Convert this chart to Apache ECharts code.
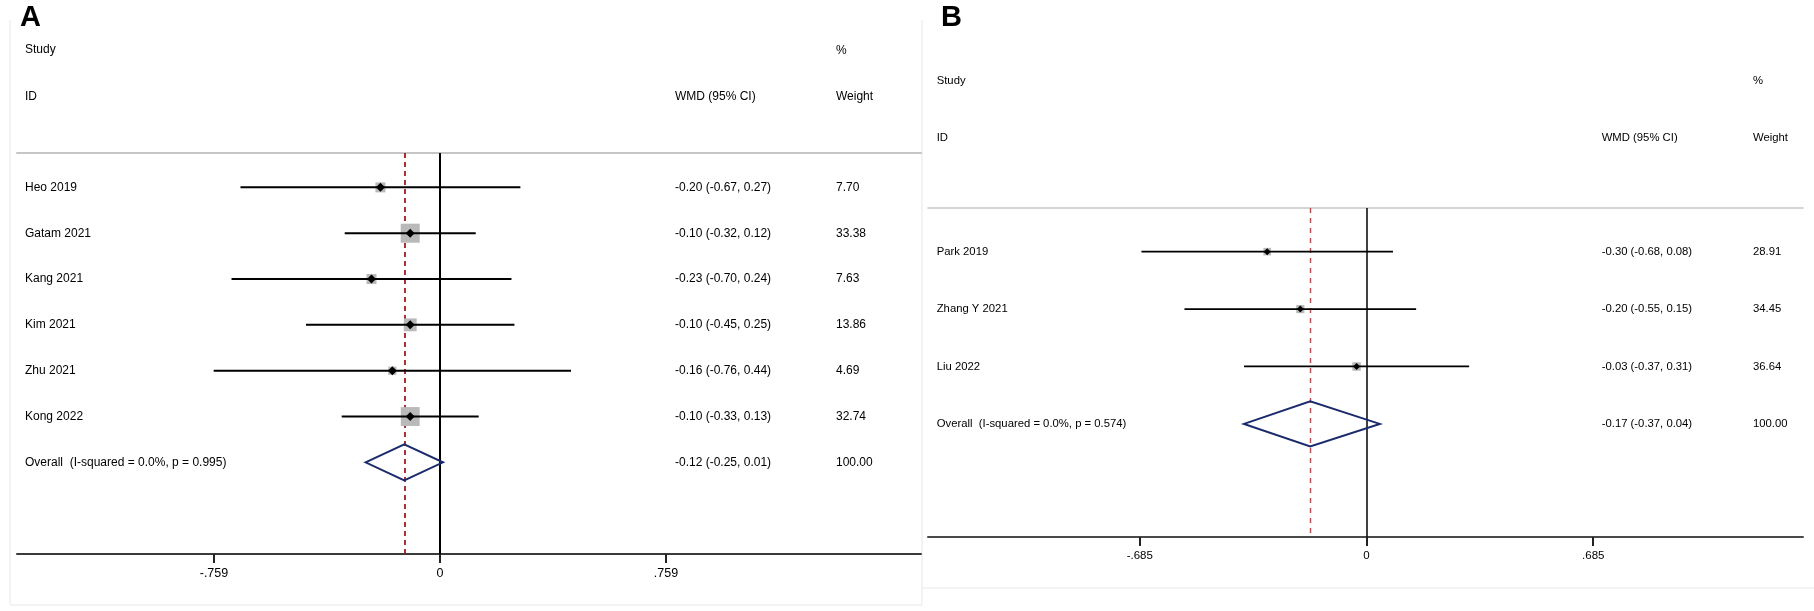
<!DOCTYPE html>
<html><head><meta charset="utf-8">
<script src="https://cdn.jsdelivr.net/npm/echarts@6/dist/echarts.min.js"></script>
<style>html,body{margin:0;padding:0;background:#fff}#c{width:1814px;height:611px}</style>
</head><body><div id="c"></div>
<script>
// ---------- Panel A data ----------
const studiesA = ['Heo 2019', 'Gatam 2021', 'Kang 2021', 'Kim 2021', 'Zhu 2021', 'Kong 2022'];
const wmdA    = [-0.20, -0.10, -0.23, -0.10, -0.16, -0.10];
const lowA    = [-0.67, -0.32, -0.70, -0.45, -0.76, -0.33];
const highA   = [ 0.27,  0.12,  0.24,  0.25,  0.44,  0.13];
const weightA = [7.70, 33.38, 7.63, 13.86, 4.69, 32.74];
const overallLabelA = 'Overall  (I-squared = 0.0%, p = 0.995)';
const overallA = [-0.12, -0.25, 0.01];
const ticksA = [-0.759, 0, 0.759];
const tickLabelsA = ['-.759', '0', '.759'];

// ---------- Panel B data ----------
const studiesB = ['Park 2019', 'Zhang Y 2021', 'Liu 2022'];
const wmdB    = [-0.30, -0.20, -0.03];
const lowB    = [-0.68, -0.55, -0.37];
const highB   = [ 0.08,  0.15,  0.31];
const weightB = [28.91, 34.45, 36.64];
const overallLabelB = 'Overall  (I-squared = 0.0%, p = 0.574)';
const overallB = [-0.17, -0.37, 0.04];
const ticksB = [-0.685, 0, 0.685];
const tickLabelsB = ['-.685', '0', '.685'];

const FONT = '"Liberation Sans", Arial, Helvetica, sans-serif';

function buildRows(studies, wmd, low, high, weight, overall) {
  const rows = studies.map((s, i) => [i, wmd[i], low[i], high[i], weight[i], 0]);
  rows.push([studies.length, overall[0], overall[1], overall[2], 100, 1]);
  return rows;
}
const rowsA = buildRows(studiesA, wmdA, lowA, highA, weightA, overallA);
const rowsB = buildRows(studiesB, wmdB, lowB, highB, weightB, overallB);
const namesA = studiesA.concat([overallLabelA]);
const namesB = studiesB.concat([overallLabelB]);

function f2(v) { return v.toFixed(2); }

function makeRender(cfg, names) {
  return function (params, api) {
    const cs = params.coordSys;
    const i = api.value(0), est = api.value(1), lo = api.value(2), hi = api.value(3), w = api.value(4), ov = api.value(5);
    const y = api.coord([0, i])[1];
    const xe = api.coord([est, i])[0], xl = api.coord([lo, i])[0], xh = api.coord([hi, i])[0];
    const font = cfg.fontSize + 'px ' + FONT;
    const ts = (text, x) => ({ type: 'text', style: { text, x, y: y + cfg.textDy, font, fill: '#000', align: 'left', verticalAlign: 'middle' } });
    const children = [
      ts(names[params.dataIndex], cs.x + cfg.nameX),
      ts(f2(est) + ' (' + f2(lo) + ', ' + f2(hi) + ')', cs.x + cfg.ciX),
      ts(f2(w), cs.x + cfg.wX)
    ];
    if (ov) {
      const h = cfg.diamondH;
      children.push({ type: 'polygon', shape: { points: [[xl, y], [xe, y - h], [xh, y], [xe, y + h]] },
        style: { fill: 'none', stroke: '#1b2a6b', lineWidth: cfg.diamondW, lineJoin: 'miter' } });
    } else {
      const s = cfg.sqK * Math.sqrt(w) + cfg.sqB;
      children.push({ type: 'rect', shape: { x: xe - s / 2, y: y - s / 2, width: s, height: s }, style: { fill: '#b9b9b9' } });
      children.push({ type: 'line', shape: { x1: xl, y1: y, x2: xh, y2: y }, style: { stroke: '#000', lineWidth: cfg.ciW } });
      const d = cfg.dot / 2;
      children.push({ type: 'polygon', shape: { points: [[xe - d, y], [xe, y - d], [xe + d, y], [xe, y + d]] }, style: { fill: '#000' } });
    }
    return { type: 'group', children };
  };
}

// Grid geometry (pixels) and axis ranges
const gA = { left: 17, top: 153, width: 904, height: 401 };
const gB = { left: 928, top: 208, width: 875, height: 329 };
const minA = -1.4204, maxA = 1.6152;
const minB = -1.3248, maxB = 1.3187;

function bottomAxis(gi, mn, mx, ticks, labels, fs, lw, color, margin) {
  return {
    gridIndex: gi, type: 'value', min: mn, max: mx, position: 'bottom',
    splitLine: { show: false },
    axisLine: { show: true, onZero: false, lineStyle: { color: color, width: lw } },
    axisTick: { show: true, customValues: ticks, length: 9, lineStyle: { color: '#222', width: 2 } },
    axisLabel: { show: true, customValues: ticks, fontSize: fs, color: '#000', fontFamily: FONT, margin: margin,
      formatter: v => { const k = ticks.findIndex(t => Math.abs(t - v) < 1e-6); return k >= 0 ? labels[k] : ''; } }
  };
}
function topAxis(gi, mn, mx, color, lw) {
  return {
    gridIndex: gi, type: 'value', min: mn, max: mx, position: 'top',
    splitLine: { show: false }, axisTick: { show: false }, axisLabel: { show: false },
    axisLine: { show: true, onZero: false, lineStyle: { color: color, width: lw } }
  };
}

function txt(text, x, y, fs, weight) {
  return { type: 'text', z: 10, style: { text, x, y, font: (weight || 'normal') + ' ' + fs + 'px ' + FONT, fill: '#000', align: 'left', verticalAlign: 'middle' } };
}
function faint(x1, y1, x2, y2) {
  return { type: 'line', z: 0, shape: { x1, y1, x2, y2 }, style: { stroke: '#eef1f1', lineWidth: 1.5 } };
}

const option = {
  animation: false,
  backgroundColor: '#fff',
  grid: [
    Object.assign({ containLabel: false }, gA),
    Object.assign({ containLabel: false }, gB)
  ],
  xAxis: [
    bottomAxis(0, minA, maxA, ticksA, tickLabelsA, 12.5, 2, '#3a3a3a', 13),
    topAxis(0, minA, maxA, '#c6c6c6', 2),
    bottomAxis(1, minB, maxB, ticksB, tickLabelsB, 11.5, 2, '#4a4a4a', 13),
    topAxis(1, minB, maxB, '#c6c6c6', 1.6)
  ],
  yAxis: [
    { gridIndex: 0, type: 'value', min: -0.75, max: 8.0, inverse: true, show: false },
    { gridIndex: 1, type: 'value', min: -0.76, max: 4.97, inverse: true, show: false }
  ],
  graphic: [
    faint(10, 20, 10, 605), faint(10, 605, 922, 605), faint(922, 20, 922, 605), faint(922, 588, 1814, 588),
    txt('A', 20, 18, 29, 'bold'),
    txt('Study', 25, 50, 12), txt('ID', 25, 96.7, 12),
    txt('%', 836, 50.7, 12), txt('WMD (95% CI)', 675, 96.7, 12), txt('Weight', 836, 96.7, 12),
    txt('B', 941, 18, 29, 'bold'),
    txt('Study', 936.7, 81.3, 11.3), txt('ID', 936.7, 137.6, 11.3),
    txt('%', 1753, 81, 11.3), txt('WMD (95% CI)', 1601.7, 137.7, 11.3), txt('Weight', 1753, 137.7, 11.3)
  ],
  series: [
    {
      type: 'scatter', xAxisIndex: 0, yAxisIndex: 0, data: [], silent: true,
      markLine: {
        z: 1, silent: true, symbol: ['none', 'none'], label: { show: false }, animation: false,
        data: [
          { xAxis: 0, lineStyle: { color: '#000', width: 2, type: 'solid' } },
          { xAxis: overallA[0], lineStyle: { color: '#a01c22', width: 1.8, type: [5, 4] } }
        ]
      }
    },
    {
      type: 'custom', xAxisIndex: 0, yAxisIndex: 0, z: 3, data: rowsA,
      renderItem: makeRender({ fontSize: 12, textDy: 0, nameX: 8, ciX: 658, wX: 819, diamondH: 18, diamondW: 2,
        sqK: 3.0, sqB: 1.7, ciW: 2, dot: 9 }, namesA)
    },
    {
      type: 'scatter', xAxisIndex: 2, yAxisIndex: 1, data: [], silent: true,
      markLine: {
        z: 1, silent: true, symbol: ['none', 'none'], label: { show: false }, animation: false,
        data: [
          { xAxis: 0, lineStyle: { color: '#111', width: 1.6, type: 'solid' } },
          { xAxis: overallB[0], lineStyle: { color: '#b8494d', width: 1.4, type: [5, 5] } }
        ]
      }
    },
    {
      type: 'custom', xAxisIndex: 2, yAxisIndex: 1, z: 3, data: rowsB,
      renderItem: makeRender({ fontSize: 11.3, textDy: 0, nameX: 8.7, ciX: 673.7, wX: 825, diamondH: 22.5, diamondW: 2,
        sqK: 1.4, sqB: 0, ciW: 1.7, dot: 7 }, namesB)
    }
  ]
};

const chart = echarts.init(document.getElementById('c'), null, { renderer: 'canvas' });
chart.setOption(option);
</script>
</body></html>
